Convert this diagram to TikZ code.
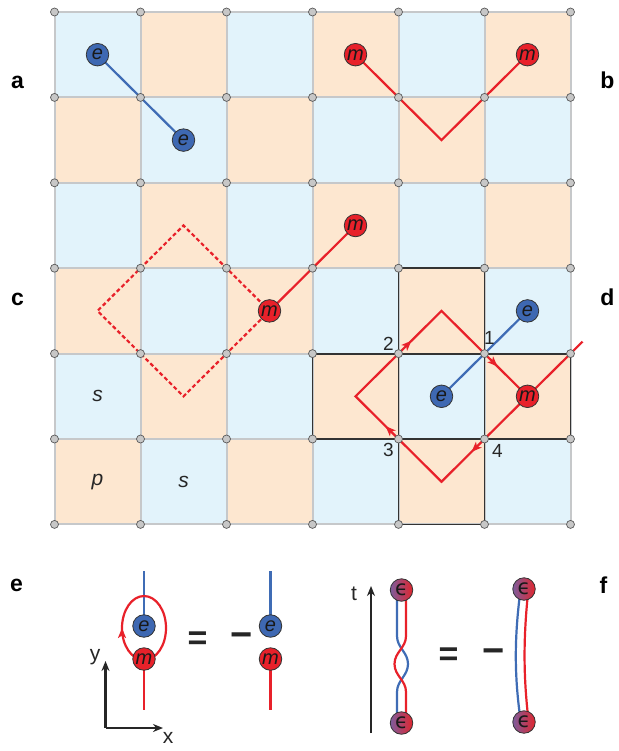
\documentclass[tikz,border=0pt]{standalone}
\usepackage{fontspec}
\setmainfont{Liberation Sans}
\newfontfamily\epsfont{DejaVu Sans}
\usetikzlibrary{arrows.meta,decorations.markings}
\definecolor{cellblue}{HTML}{E2F3FB}
\definecolor{cellorange}{HTML}{FDE7D0}
\definecolor{gridgray}{HTML}{C6C8CA}
\definecolor{pblue}{HTML}{3E68B2}
\definecolor{pred}{HTML}{E8212A}
\definecolor{lblue}{HTML}{3F6CB5}
\definecolor{epurple}{HTML}{7D5C9C}
\definecolor{ered}{HTML}{E2262E}
\tikzset{
  particle/.style={circle, draw=black!80, line width=0.8pt, minimum size=22.5pt, inner sep=0pt, text=black!90, font=\itshape\fontsize{20}{20}\selectfont},
  enode/.style={particle, fill=pblue},
  mnode/.style={particle, fill=pred},
  epsnode/.style={circle, draw=black!80, line width=0.8pt, minimum size=22.5pt, inner sep=0pt, left color=epurple, right color=ered, text=black!90, font=\epsfont\fontsize{21}{21}\selectfont},
  vert/.style={circle, draw=black!65, fill=black!22, line width=0.7pt, minimum size=8pt, inner sep=0pt},
  gridline/.style={draw=gridgray, line width=2pt},
  crossline/.style={draw=black!80, line width=1.8pt},
  redline/.style={color=pred, line width=2.2pt},
  blueline/.style={color=lblue, line width=2.2pt},
  panellabel/.style={font=\bfseries\fontsize{23}{23}\selectfont, inner sep=0pt},
  numlabel/.style={font=\fontsize{19}{19}\selectfont, inner sep=0pt, text=black!85},
  cellsym/.style={font=\itshape\fontsize{21}{21}\selectfont, inner sep=0pt, text=black!85},
  axislabel/.style={font=\fontsize{21}{21}\selectfont, inner sep=0pt, text=black!85},
  eqsign/.style={font=\bfseries\fontsize{34}{34}\selectfont, inner sep=0pt, text=black!85},
  minussign/.style={font=\bfseries\fontsize{38}{38}\selectfont, inner sep=0pt, text=black!85},
  axisarrow/.style={draw=black!85, line width=2.4pt, -{Stealth[length=10pt,width=8pt]}},
  looparrows/.style={postaction={decorate}, decoration={markings,
    mark=at position 0.1625 with {\arrow{Stealth[length=10pt,width=8pt,inset=2.5pt]}},
    mark=at position 0.4125 with {\arrow{Stealth[length=10pt,width=8pt,inset=2.5pt]}},
    mark=at position 0.6625 with {\arrow{Stealth[length=10pt,width=8pt,inset=2.5pt]}},
    mark=at position 0.9125 with {\arrow{Stealth[length=10pt,width=8pt,inset=2.5pt]}}}},
  ellarrow/.style={postaction={decorate}, decoration={markings,
    mark=at position 0.5 with {\arrow{Stealth[length=10pt,width=8pt,inset=2.5pt]}}}},
}
\begin{document}
\begin{tikzpicture}[x=1pt,y=-1pt]
\useasboundingbox (0,0) rectangle (618,751);
\fill[white] (0,0) rectangle (618,751);
% ---------- lattice ----------
\begin{scope}[shift={(54.5,12)}, x=86pt, y=-85.4pt]
  \foreach \i in {0,...,5} {
    \foreach \j in {0,...,5} {
      \pgfmathtruncatemacro\cpar{mod(\i+\j,2)}
      \ifnum\cpar=0
        \fill[cellblue] (\i,\j) rectangle ++(1,1);
      \else
        \fill[cellorange] (\i,\j) rectangle ++(1,1);
      \fi
    }
  }
  \foreach \k in {0,...,6} {
    \draw[gridline] (\k,0) -- (\k,6);
    \draw[gridline] (0,\k) -- (6,\k);
  }
  % cross outline (d)
  \draw[crossline] (4,3) rectangle (5,6);
  \draw[crossline] (3,4) rectangle (6,5);
  % coordinates
  \coordinate (pa1) at (0.5,0.5);
  \coordinate (pa2) at (1.5,1.5);
  \coordinate (pb1) at (3.5,0.5);
  \coordinate (pb2) at (5.5,0.5);
  \coordinate (pbv) at (4.5,1.5);
  \coordinate (pc1) at (2.5,3.5);
  \coordinate (pc2) at (3.5,2.5);
  \coordinate (ct) at (1.5,2.5);
  \coordinate (cl) at (0.5,3.5);
  \coordinate (cb) at (1.5,4.5);
  \coordinate (pdm) at (5.5,4.5);
  \coordinate (pde1) at (4.5,4.5);
  \coordinate (pde2) at (5.5,3.5);
  \coordinate (dt) at (4.5,3.5);
  \coordinate (dl) at (3.5,4.5);
  \coordinate (db) at (4.5,5.5);
  \coordinate (dend) at (6.14,3.86);
  % strings
  \draw[blueline] (pa1) -- (pa2);
  \draw[redline] (pb1) -- (pbv) -- (pb2);
  \draw[redline] (pc1) -- (pc2);
  \draw[redline, dash pattern=on 4pt off 2.6pt] (pc1) -- (ct) -- (cl) -- (cb) -- cycle;
  \draw[redline, looparrows] (dl) -- (dt) -- (pdm) -- (db) -- cycle;
  \draw[redline] (pdm) -- (dend);
  \draw[blueline] (pde1) -- (pde2);
  % vertices
  \foreach \i in {0,...,6} {
    \foreach \j in {0,...,6} {
      \node[vert] (v\i\j) at (\i,\j) {};
    }
  }
  % particles
  \node[enode] (ea1) at (pa1) {e};
  \node[enode] (ea2) at (pa2) {e};
  \node[mnode] (mb1) at (pb1) {m};
  \node[mnode] (mb2) at (pb2) {m};
  \node[mnode] (mc1) at (pc1) {m};
  \node[mnode] (mc2) at (pc2) {m};
  \node[mnode] (md) at (pdm) {m};
  \node[enode] (ed1) at (pde1) {e};
  \node[enode] (ed2) at (pde2) {e};
  % cell symbols
  \node[cellsym] (s1) at (0.5,4.5) {s};
  \node[cellsym] (s2) at (1.5,5.5) {s};
  \node[cellsym] (p1) at (0.5,5.5) {p};
  % vertex numbers
  \node[numlabel, xshift=5pt, yshift=16pt] (n1) at (v54) {1};
  \node[numlabel, xshift=-10pt, yshift=10pt] (n2) at (v44) {2};
  \node[numlabel, xshift=-10pt, yshift=-11pt] (n3) at (v45) {3};
  \node[numlabel, xshift=13pt, yshift=-12pt] (n4) at (v55) {4};
\end{scope}
% ---------- panel labels ----------
\node[panellabel] (la) at (17.5,82.5) {a};
\node[panellabel] (lb) at (607.5,80) {b};
\node[panellabel] (lc) at (17.5,299) {c};
\node[panellabel] (ld) at (607.5,297) {d};
\node[panellabel] (le) at (16.5,585.5) {e};
\node[panellabel] (lf) at (603.5,585) {f};
% ---------- panel e ----------
\coordinate (etop1) at (144,571);
\coordinate (ebot1) at (144,710);
\coordinate (etop2) at (270.5,571);
\coordinate (ebot2) at (270.5,710);
\draw[blueline] (etop1) -- (144,626);
\draw[redline] (144,659) -- (ebot1);
\draw[redline, ellarrow] (144,628) ellipse [x radius=22, y radius=32];
\node[enode] (ee1) at (144,626) {e};
\node[mnode] (me1) at (144,659) {m};
\draw[blueline] (etop2) -- (270.5,626);
\draw[redline] (270.5,659) -- (ebot2);
\node[enode] (ee2) at (270.5,626) {e};
\node[mnode] (me2) at (270.5,659) {m};
\coordinate (orig) at (105.5,728);
\coordinate (yend) at (105.5,661);
\coordinate (xend) at (163,728);
\draw[axisarrow] (orig) -- (yend);
\draw[axisarrow] (orig) -- (xend);
\node[axislabel] (ylab) at (95,657) {y};
\node[axislabel] (xlab) at (168,738) {x};
\node[eqsign] (eq1) at (197.5,641) {=};
\node[minussign] (mi1) at (241.5,640) {−};
% ---------- panel f ----------
\coordinate (torig) at (371,733);
\coordinate (tend) at (371,586);
\draw[axisarrow] (torig) -- (tend);
\node[axislabel] (tlab) at (354,593.5) {t};
\draw[blueline] (397,598) -- (397,636) to[out=-90,in=90] (408,664) to[out=-90,in=90] (397,692) -- (397,716);
\draw[redline] (406,598) -- (406,636) to[out=-90,in=90] (394.5,664) to[out=-90,in=90] (406,692) -- (406,716);
\node[epsnode] (f1t) at (401.5,590) {ϵ};
\node[epsnode] (f1b) at (401.5,723) {ϵ};
\draw[blueline] (519.5,598) .. controls (514.5,640) and (514.5,675) .. (520,716);
\draw[redline] (527.5,598) .. controls (523.5,640) and (523.5,675) .. (528,716);
\node[epsnode] (f2t) at (524,589) {ϵ};
\node[epsnode] (f2b) at (524,722) {ϵ};
\node[eqsign] (eq2) at (448.5,657) {=};
\node[minussign] (mi2) at (493.5,656.5) {−};
\end{tikzpicture}
\end{document}
